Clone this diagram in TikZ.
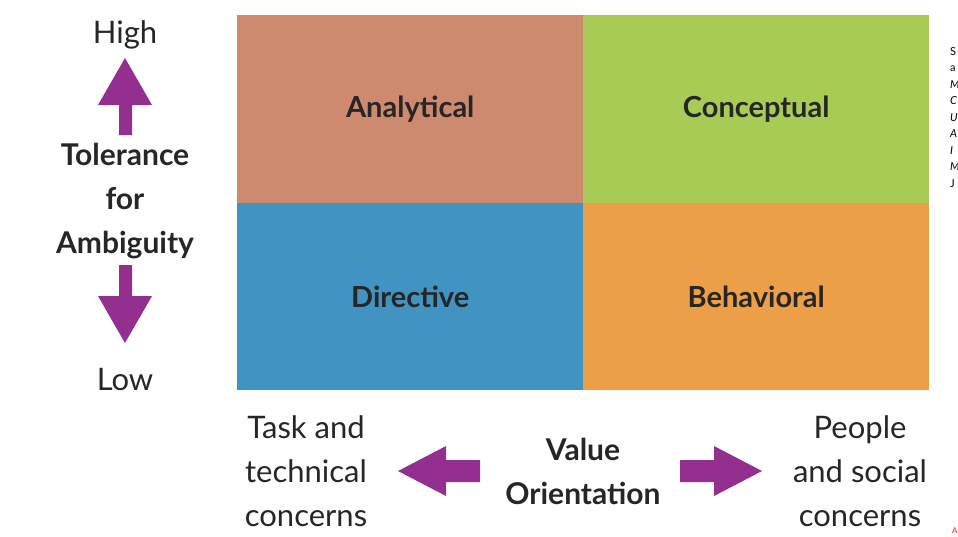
\documentclass[tikz,border=0pt]{standalone}
\usepackage{fontspec}
\setmainfont{Lato}
\begin{document}
\begin{tikzpicture}[x=1pt,y=-1pt,
  quad/.style={minimum width=346pt,anchor=north west,inner sep=0pt,font=\bfseries\fontsize{29}{30}\selectfont,text=black!85},
  lbl/.style={font=\fontsize{31}{44}\selectfont,text=black!85,align=center},
  blbl/.style={font=\bfseries\fontsize{30}{44}\selectfont,text=black!85,align=center},
  parrow/.style={fill=purple!60!violet!80!black,draw=none}]
\useasboundingbox (0,0) rectangle (958,536);
\definecolor{anc}{HTML}{CD8A6F}\definecolor{coc}{HTML}{A8CB55}
\definecolor{dic}{HTML}{4193C2}\definecolor{bec}{HTML}{EC9F47}
\definecolor{pur}{HTML}{93308F}
\node[quad,fill=anc,minimum height=188pt] (an) at (237,15) {Analytical};
\node[quad,fill=coc,minimum height=188pt] (co) at (583,15) {Conceptual};
\node[quad,fill=dic,minimum height=187pt] (di) at (237,203) {Directive};
\node[quad,fill=bec,minimum height=187pt] (be) at (583,203) {Behavioral};
\node[lbl] (hi) at (125,35) {High};
\node[lbl] (lo) at (125,379) {Low};
\node[blbl] (tol) at (125,201) {Tolerance\\for\\Ambiguity};
\fill[pur] (98,105) -- (125,58) -- (152,105) -- (132,105) -- (132,135) -- (119,135) -- (119,105) -- cycle;
\fill[pur] (98,296) -- (125,343) -- (152,296) -- (132,296) -- (132,265) -- (119,265) -- (119,296) -- cycle;
\fill[pur] (446,446) -- (398,471) -- (446,496) -- (446,482) -- (480,482) -- (480,460) -- (446,460) -- cycle;
\fill[pur] (714,446) -- (762,471) -- (714,496) -- (714,482) -- (680,482) -- (680,460) -- (714,460) -- cycle;
\node[lbl] (task) at (306,471) {Task and\\technical\\concerns};
\node[blbl] (val) at (583,471) {Value\\Orientation};
\node[lbl] (ppl) at (860,471) {People\\and social\\concerns};
\begin{scope}
\clip (940,0) rectangle (958,536);
\node[anchor=north west,inner sep=0pt,align=left,font=\fontsize{11}{16.5}\selectfont] (src) at (950,47) {S\\a\\\itshape M\\\itshape C\\\itshape U\\\itshape A\\\itshape I\\\itshape M\\J};
\node[anchor=north west,inner sep=0pt,text=red!80!orange,font=\fontsize{8}{8}\selectfont] (mk) at (952,528) {A};
\end{scope}
\end{tikzpicture}
\end{document}
